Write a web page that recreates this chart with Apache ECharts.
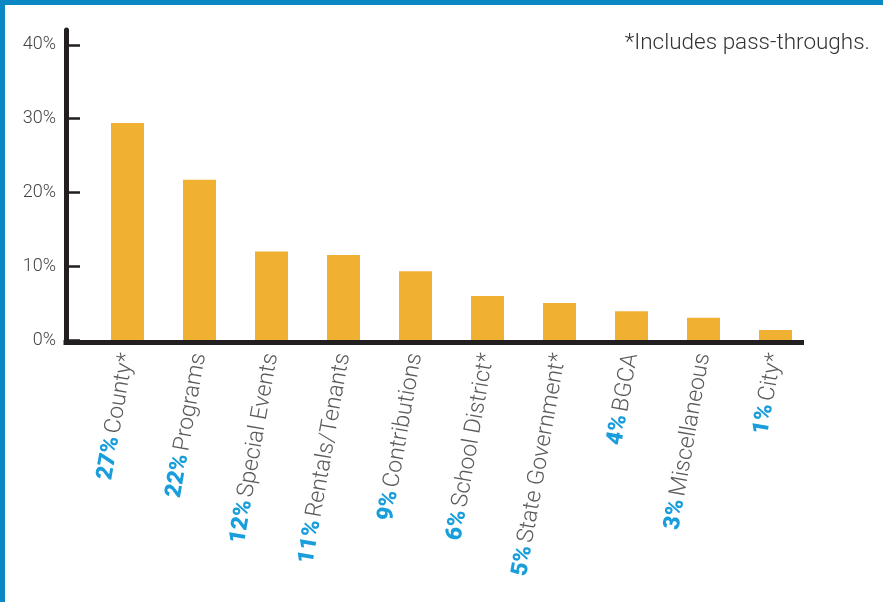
<!DOCTYPE html>
<html>
<head>
<meta charset="utf-8">
<script src="https://cdn.jsdelivr.net/npm/echarts@6/dist/echarts.min.js"></script>
<style>
  html, body { margin: 0; padding: 0; background: #fff; }
  #frame { position: absolute; left: 0; top: 0; width: 878px; height: 597px; border-top: 5px solid #0a88c4; border-left: 5px solid #0a88c4; background: #fff; }
  #chart { position: absolute; left: 0; top: 0; width: 883px; height: 602px; }
</style>
</head>
<body>
<div id="frame"></div>
<div id="chart"></div>
<script>
// Data
const categories = ['County*', 'Programs', 'Special Events', 'Rentals/Tenants', 'Contributions', 'School District*', 'State Government*', 'BGCA', 'Miscellaneous', 'City*'];
const shareLabels = ['27%', '22%', '12%', '11%', '9%', '6%', '5%', '4%', '3%', '1%'];
const barValues = [29.4, 21.7, 12.0, 11.5, 9.3, 5.95, 5.0, 3.9, 3.0, 1.35];
const yTicks = [0, 10, 20, 30, 40];
const note = '*Includes pass-throughs.';

const chart = echarts.init(document.getElementById('chart'), null, { renderer: 'canvas' });
const catIdx = categories.map((c, i) => i);

chart.setOption({
  backgroundColor: 'transparent',
  animation: false,
  title: {
    text: note,
    right: 8,
    top: 27,
    textStyle: { fontFamily: 'Roboto', fontWeight: 300, fontSize: 22.5, color: '#333' }
  },
  grid: { left: 66, right: 81.5, top: 30, bottom: 262, containLabel: false },
  xAxis: {
    type: 'value',
    min: -0.854,
    max: 9.361,
    position: 'bottom',
    offset: 2.5,
    splitLine: { show: false },
    axisTick: { show: false },
    axisLine: { show: true, onZero: false, lineStyle: { color: '#231f20', width: 5, cap: 'square' } },
    axisLabel: {
      customValues: catIdx,
      rotate: 80,
      margin: 11,
      formatter: function (v) {
        const i = Math.round(v);
        return '{p|' + shareLabels[i] + '} {n|' + categories[i] + '}';
      },
      rich: {
        p: { fontFamily: 'Roboto', fontWeight: 900, fontSize: 23, color: '#1a9edb' },
        n: { fontFamily: 'Roboto', fontWeight: 300, fontSize: 23, color: '#5a5a5a' }
      }
    }
  },
  yAxis: {
    type: 'value',
    min: 0,
    max: 42,
    position: 'left',
    splitLine: { show: false },
    axisLine: { show: true, onZero: false, lineStyle: { color: '#231f20', width: 5 } },
    axisTick: { show: true, inside: true, length: 14, customValues: yTicks, lineStyle: { color: '#231f20', width: 2.5 } },
    axisLabel: {
      customValues: yTicks,
      margin: 10,
      formatter: '{value}%',
      fontFamily: 'Roboto', fontWeight: 300, fontSize: 18, color: '#444'
    }
  },
  series: [{
    type: 'bar',
    barWidth: 33,
    itemStyle: { color: '#f0b133' },
    data: barValues.map((v, i) => [i, v])
  }]
});
</script>
</body>
</html>
